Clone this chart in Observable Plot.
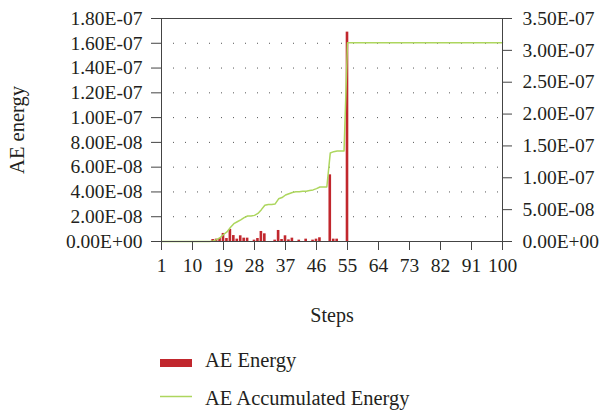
<!DOCTYPE html>
<html>
<head>
<meta charset="utf-8">
<script src="https://cdn.jsdelivr.net/npm/d3@7"></script>
<script src="https://cdn.jsdelivr.net/npm/@observablehq/plot@0.6"></script>
<style>
  html, body { margin: 0; padding: 0; background: #fff; }
  #wrap { position: relative; width: 603px; height: 413px; overflow: hidden; }
  #legend { position: absolute; left: 0; top: 330px; }
  #wrap svg, #wrap svg text { font-family: "Liberation Serif", "Times New Roman", serif; }
</style>
</head>
<body>
<div id="wrap"></div>
<script>
// Per-step AE energy (only the steps with a non-zero bar)
const barSteps  = [16, 17, 18, 19, 20, 21, 22, 23, 24, 25, 26, 28, 29, 30, 31, 34, 35, 36, 37, 38, 39, 41, 43, 45, 46, 47, 50, 51, 52, 55];
const barEnergy = [1.6e-9, 1.9e-9, 2.4e-9, 6.5e-9, 2.4e-9, 9.7e-9, 4.8e-9, 1.9e-9, 4.6e-9, 2.7e-9, 2.7e-9, 1.1e-9, 2.4e-9, 8.1e-9, 6.2e-9, 1.1e-9, 8.9e-9, 1.6e-9, 4.6e-9, 1.3e-9, 2.7e-9, 1.1e-9, 1.9e-9, 1.1e-9, 1.9e-9, 3.0e-9, 5.38e-8, 1.9e-9, 1.9e-9, 1.69e-7];

// Accumulated AE energy (right axis), at the steps where it changes
const accSteps  = [1, 15, 16, 17, 18, 19, 20, 21, 22, 23, 24, 25, 26, 27, 28, 29, 30, 31, 32, 33, 34, 35, 36, 37, 38, 39, 40, 41, 42, 43, 44, 45, 46, 47, 48, 49, 50, 51, 52, 53, 54, 55, 100];
const accEnergy = [0, 0, 0.01e-7, 0.03e-7, 0.06e-7, 0.11e-7, 0.15e-7, 0.22e-7, 0.28e-7, 0.31e-7, 0.34e-7, 0.375e-7, 0.40e-7, 0.40e-7, 0.41e-7, 0.44e-7, 0.50e-7, 0.57e-7, 0.58e-7, 0.58e-7, 0.59e-7, 0.67e-7, 0.69e-7, 0.73e-7, 0.75e-7, 0.77e-7, 0.78e-7, 0.78e-7, 0.79e-7, 0.79e-7, 0.80e-7, 0.81e-7, 0.83e-7, 0.855e-7, 0.855e-7, 0.855e-7, 1.39e-7, 1.41e-7, 1.42e-7, 1.42e-7, 1.42e-7, 3.12e-7, 3.12e-7];

// Axis ticks
const xTicks     = [1, 10, 19, 28, 37, 46, 55, 64, 73, 82, 91, 100];
const leftTicks  = [0, 2e-8, 4e-8, 6e-8, 8e-8, 1e-7, 1.2e-7, 1.4e-7, 1.6e-7, 1.8e-7];
const rightTicks = [0, 5e-8, 1e-7, 1.5e-7, 2e-7, 2.5e-7, 3e-7, 3.5e-7];

const leftMax = 1.8e-7, rightMax = 3.5e-7;
const k = leftMax / rightMax;   // right-axis values onto the left y scale

const RED = "#c1272d", GREEN = "#add65e", AXIS = "#444", INK = "#231f20";
const FONT = "Liberation Serif";

// 1.80E-07 style labels
function sci(v) {
  if (Math.abs(v) < 1e-20) return "0.00E+00";
  const [m, e] = v.toExponential(2).split("e");
  const n = +e;
  return m + "E" + (n < 0 ? "-" : "+") + String(Math.abs(n)).padStart(2, "0");
}

const bars = barSteps.map((s, i) => ({step: s, value: barEnergy[i]}));
const acc  = accSteps.map((s, i) => ({step: s, value: accEnergy[i]}));

const tickText = {fontFamily: FONT, fontSize: 19.5, fill: INK, lineAnchor: "middle"};
const noLabel = () => "";

const chart = Plot.plot({
  width: 603,
  height: 330,
  marginTop: 18,
  marginBottom: 89,
  marginLeft: 161,
  marginRight: 101,
  style: {fontFamily: FONT, fontSize: "18px", color: INK, background: "#fff"},
  x: {domain: [1, 100]},
  y: {domain: [0, leftMax]},
  marks: [
    // dotted horizontal grid at the left-axis ticks
    Plot.ruleY(leftTicks.filter(v => v > 0 && v < leftMax), {stroke: "#555", strokeWidth: 1, strokeDasharray: "1 11"}),
    Plot.ruleY([leftMax], {stroke: AXIS}),
    Plot.rectY(bars, {x1: d => d.step - 0.38, x2: d => d.step + 0.38, y: "value", fill: RED}),
    Plot.line(acc, {x: "step", y: d => d.value * k, stroke: GREEN, strokeWidth: 1.5}),
    Plot.ruleX([1], {stroke: AXIS}),
    Plot.ruleX([100], {stroke: AXIS}),
    Plot.ruleY([0], {stroke: AXIS}),
    // tick marks
    Plot.axisX({ticks: xTicks, tickFormat: noLabel, tickSize: 9, stroke: AXIS, label: null}),
    Plot.axisY({anchor: "left", ticks: leftTicks, tickFormat: noLabel, tickSize: 10, stroke: AXIS, label: null}),
    Plot.axisY({anchor: "right", ticks: rightTicks.map(v => v * k), tickFormat: noLabel, tickSize: 9, stroke: AXIS, label: null}),
    // tick labels
    Plot.text(xTicks, {x: d => d, text: d => String(d), frameAnchor: "bottom", dy: 24, textAnchor: "middle", ...tickText}),
    Plot.text(leftTicks, {y: d => d, text: sci, frameAnchor: "left", dx: -19, textAnchor: "end", ...tickText}),
    Plot.text(rightTicks, {y: d => d * k, text: sci, frameAnchor: "right", dx: 20, textAnchor: "start", ...tickText}),
    // axis titles
    Plot.text(["Steps"], {frameAnchor: "bottom", dy: 74, textAnchor: "middle", lineAnchor: "middle", fontFamily: FONT, fontSize: 20, fill: INK}),
    Plot.text(["AE energy"], {frameAnchor: "left", dx: -144, rotate: -90, textAnchor: "middle", lineAnchor: "middle", fontFamily: FONT, fontSize: 20.5, fill: INK})
  ]
});

const wrap = document.getElementById("wrap");
wrap.appendChild(chart);

// Legend below the chart
const ns = "http://www.w3.org/2000/svg";
const leg = document.createElementNS(ns, "svg");
leg.setAttribute("id", "legend");
leg.setAttribute("width", 603);
leg.setAttribute("height", 83);
const items = [
  {label: "AE Energy", kind: "bar", y: 37},
  {label: "AE Accumulated Energy", kind: "line", y: 75}
];
for (const it of items) {
  if (it.kind === "bar") {
    const r = document.createElementNS(ns, "rect");
    r.setAttribute("x", 160); r.setAttribute("y", it.y - 8);
    r.setAttribute("width", 32); r.setAttribute("height", 8);
    r.setAttribute("fill", RED);
    leg.appendChild(r);
  } else {
    const l = document.createElementNS(ns, "line");
    l.setAttribute("x1", 160); l.setAttribute("x2", 192);
    l.setAttribute("y1", it.y - 8.5); l.setAttribute("y2", it.y - 8.5);
    l.setAttribute("stroke", GREEN); l.setAttribute("stroke-width", 1.5);
    leg.appendChild(l);
  }
  const t = document.createElementNS(ns, "text");
  t.setAttribute("x", 205); t.setAttribute("y", it.y);
  t.setAttribute("font-size", 20.5); t.setAttribute("fill", INK);
  t.textContent = it.label;
  leg.appendChild(t);
}
wrap.appendChild(leg);
</script>
</body>
</html>
